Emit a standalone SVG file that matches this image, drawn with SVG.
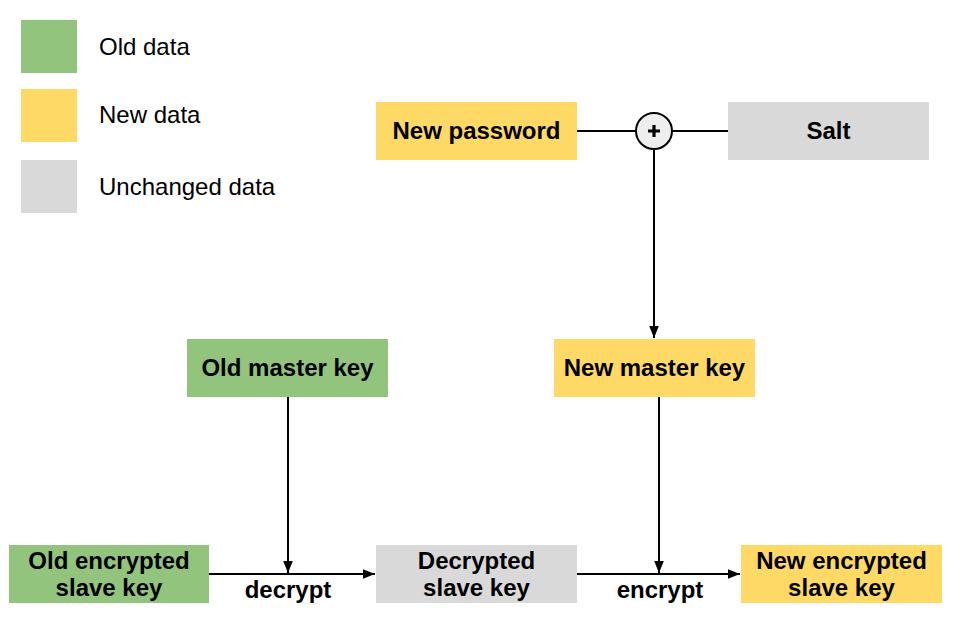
<svg xmlns="http://www.w3.org/2000/svg" width="960" height="625" viewBox="0 0 960 625">
<defs>
<style>
.g{fill:#93c47d}.y{fill:#ffd966}.u{fill:#d9d9d9}
text{font-family:"Liberation Sans",Arial,sans-serif;fill:#000}
.b{font-weight:bold;font-size:24px;text-anchor:middle}
.l{font-size:24px}
.c{stroke:#000;stroke-width:2;fill:none}
</style>
<marker id="a2" viewBox="0 0 10 10" refX="10" refY="5" markerWidth="12" markerHeight="12" markerUnits="userSpaceOnUse" orient="auto"><path d="M0,1 L10,5 L0,9 z" fill="#000"/></marker>
</defs>
<rect width="960" height="625" fill="#fff"/>
<g id="legend">
<rect class="g" x="21" y="20" width="56" height="53"/>
<rect class="y" x="21" y="89" width="56" height="53"/>
<rect class="u" x="21" y="160" width="56" height="53"/>
<text class="l" x="99" y="55">Old data</text>
<text class="l" x="99" y="123">New data</text>
<text class="l" x="99" y="195">Unchanged data</text>
</g>
<g id="connectors">
<line class="c" x1="577" y1="131" x2="636" y2="131"/>
<line class="c" x1="672" y1="131" x2="728" y2="131"/>
<line class="c" x1="654" y1="149" x2="654" y2="338" marker-end="url(#a2)"/>
<line class="c" x1="288" y1="397" x2="288" y2="573" marker-end="url(#a2)"/>
<line class="c" x1="659" y1="397" x2="659" y2="573" marker-end="url(#a2)"/>
<line class="c" x1="209" y1="574" x2="375" y2="574" marker-end="url(#a2)"/>
<line class="c" x1="577" y1="574" x2="740" y2="574" marker-end="url(#a2)"/>
<text class="b" x="288" y="598">decrypt</text>
<text class="b" x="660" y="598">encrypt</text>
</g>
<g id="plus">
<circle cx="654" cy="131" r="18" fill="#eeeeee" stroke="#000" stroke-width="2"/>
<path d="M648,131 H660 M654,125 V137" stroke="#000" stroke-width="3.2"/>
</g>
<g id="new-password"><rect class="y" x="376" y="102" width="201" height="58"/><text class="b" x="476.5" y="139">New password</text></g>
<g id="salt"><rect class="u" x="728" y="102" width="201" height="58"/><text class="b" x="828.5" y="139">Salt</text></g>
<g id="old-master-key"><rect class="g" x="187" y="339" width="201" height="58"/><text class="b" x="287.5" y="376">Old master key</text></g>
<g id="new-master-key"><rect class="y" x="554" y="339" width="201" height="58"/><text class="b" x="654.5" y="376">New master key</text></g>
<g id="old-encrypted"><rect class="g" x="9" y="545" width="200" height="58"/><text class="b" x="109" y="569">Old encrypted</text><text class="b" x="109" y="596">slave key</text></g>
<g id="decrypted"><rect class="u" x="376" y="545" width="201" height="58"/><text class="b" x="476.5" y="569">Decrypted</text><text class="b" x="476.5" y="596">slave key</text></g>
<g id="new-encrypted"><rect class="y" x="741" y="545" width="201" height="58"/><text class="b" x="841.5" y="569">New encrypted</text><text class="b" x="841.5" y="596">slave key</text></g>
</svg>
